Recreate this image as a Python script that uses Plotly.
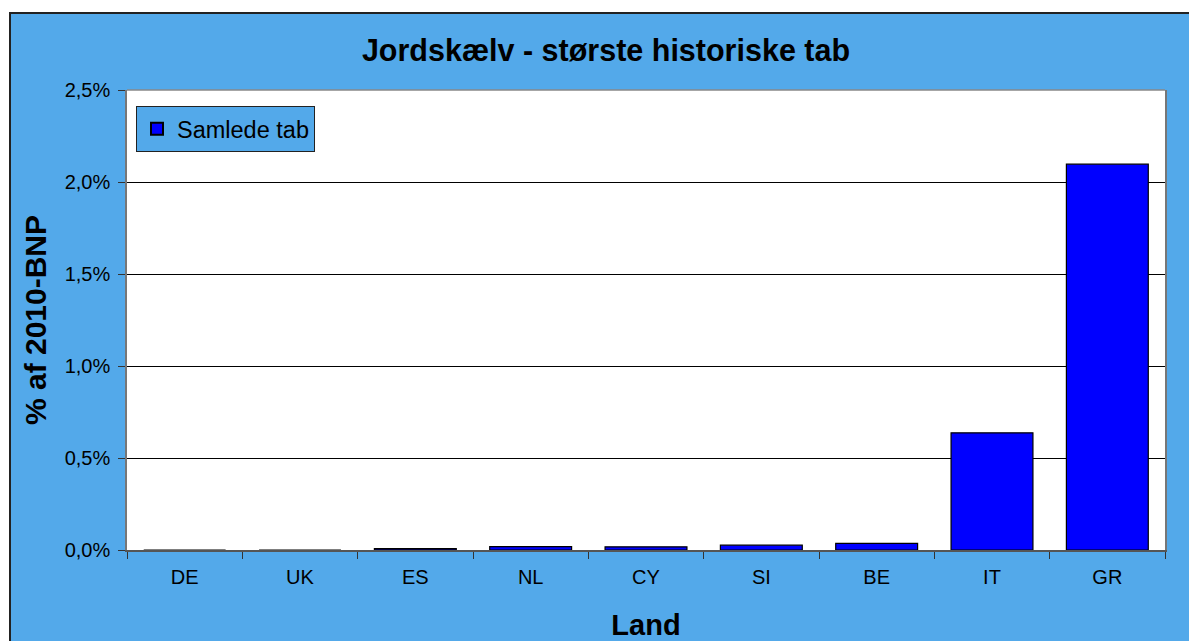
import plotly.graph_objects as go

countries = ["DE", "UK", "ES", "NL", "CY", "SI", "BE", "IT", "GR"]
losses_pct = [0.0, 0.0, 0.008, 0.018, 0.017, 0.026, 0.036, 0.637, 2.097]
y_ticks = [0.0, 0.5, 1.0, 1.5, 2.0, 2.5]

W, H = 1189, 641
L, R, T, B = 127, 1165, 90, 550
pw, ph = R - L, B - T

def px(x):
    return (x - L) / pw

def py(y):
    return 1 - (y - T) / ph

fig = go.Figure()
fig.add_trace(go.Bar(
    x=countries,
    y=[v / 100 for v in losses_pct],
    name="Samlede tab",
    marker=dict(color="#0000FF", line=dict(color="#000000", width=1.2)),
    width=0.71,
    showlegend=True,
))

fig.update_layout(
    width=W, height=H,
    margin=dict(l=L, r=W - R, t=T, b=H - B, autoexpand=False),
    paper_bgcolor="white",
    plot_bgcolor="rgba(0,0,0,0)",
    separators=", ",
    font=dict(family="Liberation Sans, Arial, sans-serif", color="black", size=20),
    title=dict(text="<b>Jordskælv - største historiske tab</b>",
               x=px(606), xref="paper", xanchor="center",
               y=1 - 50 / H, yanchor="middle",
               font=dict(size=30.5, color="black")),
    showlegend=True,
    legend=dict(x=px(136), y=py(106), xanchor="left", yanchor="top",
                bgcolor="#53A9EA", bordercolor="#222222", borderwidth=1,
                font=dict(size=23.5), itemsizing="constant", itemwidth=30,
                tracegroupgap=0),
    bargap=0.29,
)

fig.update_yaxes(
    range=[0, 0.025], tickvals=[v / 100 for v in y_ticks], tickformat=".1%",
    automargin=False,
    showgrid=True, gridcolor="black", gridwidth=1,
    showline=True, linecolor="#777777", linewidth=1.5, mirror=True,
    ticks="outside", ticklen=7, tickcolor="#333333",
    ticklabelstandoff=4,
    zeroline=False,
    title=dict(text="<b>% af 2010-BNP</b>", font=dict(size=30), standoff=9),
    tickfont=dict(size=20),
)
fig.update_xaxes(
    automargin=False,
    showline=True, linecolor="#555555", linewidth=2,
    ticks="outside", ticklen=7, tickcolor="#333333", tickson="boundaries",
    ticklabelstandoff=8,
    title=dict(text="<b>Land</b>", font=dict(size=29), standoff=28),
    tickfont=dict(size=20),
)

# outer chart area background with border
fig.add_shape(type="rect", xref="paper", yref="paper",
              x0=px(10), y0=py(H + 40), x1=px(W + 40), y1=py(13),
              fillcolor="#53A9EA", line=dict(color="#222222", width=2),
              layer="below")
# white plot area
fig.add_shape(type="rect", xref="paper", yref="paper",
              x0=0, y0=0, x1=1, y1=1,
              fillcolor="white", line=dict(width=0), layer="below")
# top edge of plot area
fig.add_shape(type="line", xref="paper", yref="paper",
              x0=0, y0=1, x1=1, y1=1,
              line=dict(color="#888888", width=1.5), layer="above")

fig.write_html("out.html",
               config={"displayModeBar": False},
               post_script="document.body.style.margin='0';document.body.style.overflow='hidden';")
